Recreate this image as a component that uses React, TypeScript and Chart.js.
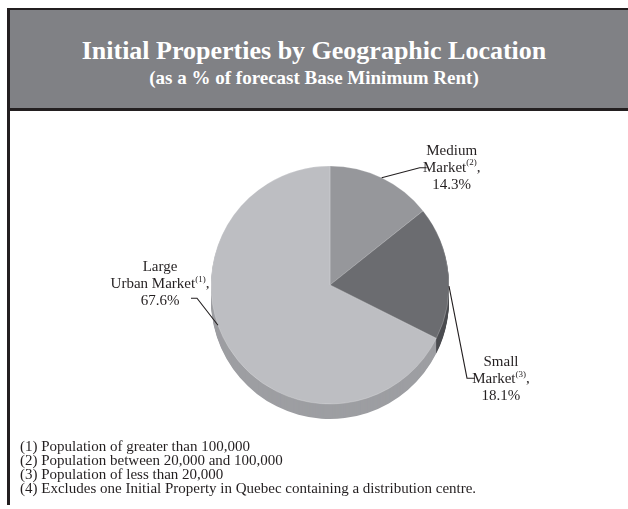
import React, { useEffect, useRef } from "react";
import { Chart, registerables } from "chart.js";

Chart.register(...registerables);

// ---- data ----
const categories = ["Medium Market", "Small Market", "Large Urban Market"];
const labelLines = [
  ["Medium", "Market"],
  ["Small", "Market"],
  ["Large", "Urban Market"],
];
const noteRefs = ["(2)", "(3)", "(1)"];
const shares = [14.3, 18.1, 67.6];
const topColors = ["#96979b", "#6b6c70", "#bdbec2"];
const sideColors = ["#77787c", "#4b4c50", "#9d9ea2"];
const titleText = "Initial Properties by Geographic Location";
const subtitleText = "(as a % of forecast Base Minimum Rent)";
const footnotes = [
  "(1) Population of greater than 100,000",
  "(2) Population between 20,000 and 100,000",
  "(3) Population of less than 20,000",
  "(4) Excludes one Initial Property in Quebec containing a distribution centre.",
];

const INK = "#231f20";
const FONT = '"Liberation Serif", "Times New Roman", serif';
const DEPTH = 15;

// label layout: where on the slice rim the leader starts (fraction of slice),
// elbow offset from rim point, tail length, text centre offset from elbow
const labelLayout = [
  { frac: 0.5, elbow: [38, -10], tail: 7, text: [32, 0], lineIdx: 1 },
  { frac: 0.6, elbow: [18, 92], tail: 8, text: [34, 1], lineIdx: 1 },
  { frac: 0.549, elbow: [-21, -27], tail: -6, text: [-37, -14], lineIdx: 1 },
];

const sidePlugin = {
  id: "pieSide",
  beforeDatasetsDraw(chart: any) {
    const ctx = chart.ctx;
    const meta = chart.getDatasetMeta(0);
    ctx.save();
    for (let d = DEPTH; d >= 1; d--) {
      meta.data.forEach((arc: any, i: number) => {
        const p = arc.getProps(["x", "y", "startAngle", "endAngle", "outerRadius"], true);
        ctx.beginPath();
        ctx.moveTo(p.x, p.y + d);
        ctx.arc(p.x, p.y + d, p.outerRadius, p.startAngle, p.endAngle);
        ctx.closePath();
        ctx.fillStyle = sideColors[i];
        ctx.fill();
      });
    }
    ctx.restore();
  },
};

function drawRich(ctx: CanvasRenderingContext2D, parts: { t: string; sup?: boolean }[], cx: number, cy: number) {
  const main = `15px ${FONT}`;
  const small = `9px ${FONT}`;
  let w = 0;
  parts.forEach((p) => {
    ctx.font = p.sup ? small : main;
    w += ctx.measureText(p.t).width;
  });
  let x = cx - w / 2;
  parts.forEach((p) => {
    ctx.font = p.sup ? small : main;
    ctx.fillText(p.t, x, p.sup ? cy - 5 : cy);
    x += ctx.measureText(p.t).width;
  });
}

const labelPlugin = {
  id: "pieLabels",
  afterDraw(chart: any) {
    const ctx = chart.ctx;
    const meta = chart.getDatasetMeta(0);
    ctx.save();
    ctx.strokeStyle = INK;
    ctx.lineWidth = 1.1;
    ctx.fillStyle = INK;
    ctx.textBaseline = "middle";
    ctx.textAlign = "left";
    meta.data.forEach((arc: any, i: number) => {
      const p = arc.getProps(["x", "y", "startAngle", "endAngle", "outerRadius"], true);
      const L = labelLayout[i];
      const a = p.startAngle + (p.endAngle - p.startAngle) * L.frac;
      const rx = p.x + p.outerRadius * Math.cos(a);
      const ry = p.y + p.outerRadius * Math.sin(a);
      const ex = rx + L.elbow[0];
      const ey = ry + L.elbow[1];
      ctx.beginPath();
      ctx.moveTo(rx, ry);
      ctx.lineTo(ex, ey);
      ctx.lineTo(ex + L.tail, ey);
      ctx.stroke();
      const tx = ex + L.text[0];
      const ty = ey + L.text[1];
      const lh = 17;
      const lines = [
        [{ t: labelLines[i][0] }],
        [{ t: labelLines[i][1] }, { t: noteRefs[i], sup: true }, { t: "," }],
        [{ t: shares[i].toFixed(1) + "%" }],
      ];
      lines.forEach((ln, k) => drawRich(ctx, ln, tx, ty + (k - L.lineIdx) * lh));
    });
    ctx.restore();
  },
};

export default function App() {
  const ref = useRef<HTMLCanvasElement>(null);
  useEffect(() => {
    if (!ref.current) return;
    const chart = new Chart(ref.current, {
      type: "pie",
      data: {
        labels: categories,
        datasets: [
          {
            data: shares,
            backgroundColor: topColors,
            borderColor: "rgba(255,255,255,0.35)",
            borderWidth: 0.6,
            radius: 119,
          } as any,
        ],
      },
      options: {
        responsive: false,
        animation: false,
        devicePixelRatio: 1,
        layout: { padding: { left: 200, right: 178, top: 54, bottom: 36 } },
        plugins: { legend: { display: false }, tooltip: { enabled: false }, title: { display: false } },
      },
      plugins: [sidePlugin, labelPlugin],
    });
    return () => chart.destroy();
  }, []);

  return (
    <div style={{ position: "fixed", left: 0, top: 0, width: 628, height: 509, background: "#fff", overflow: "hidden", fontFamily: FONT }}>
      <div style={{ position: "absolute", left: 7, top: 8, width: 621, height: 497, borderLeft: `3px solid ${INK}`, borderTop: `2px solid ${INK}`, boxSizing: "border-box" }} />
      <div style={{ position: "absolute", left: 10, top: 10, width: 618, height: 98, background: "#808185", borderBottom: `3px solid ${INK}` }} />
      <div style={{ position: "absolute", left: 10, top: 38, width: 608, textAlign: "center", color: "#fff", fontWeight: "bold", fontSize: 26, lineHeight: "26px", whiteSpace: "nowrap" }}>{titleText}</div>
      <div style={{ position: "absolute", left: 10, top: 68, width: 608, textAlign: "center", color: "#fff", fontWeight: "bold", fontSize: 19, lineHeight: "19px", whiteSpace: "nowrap" }}>{subtitleText}</div>
      <canvas ref={ref} width={618} height={330} style={{ position: "absolute", left: 10, top: 111, width: 618, height: 330 }} />
      <div style={{ position: "absolute", left: 20, top: 439, color: INK, fontSize: 15, lineHeight: "14px", whiteSpace: "nowrap" }}>
        {footnotes.map((f, i) => (
          <div key={i}>{f}</div>
        ))}
      </div>
    </div>
  );
}
